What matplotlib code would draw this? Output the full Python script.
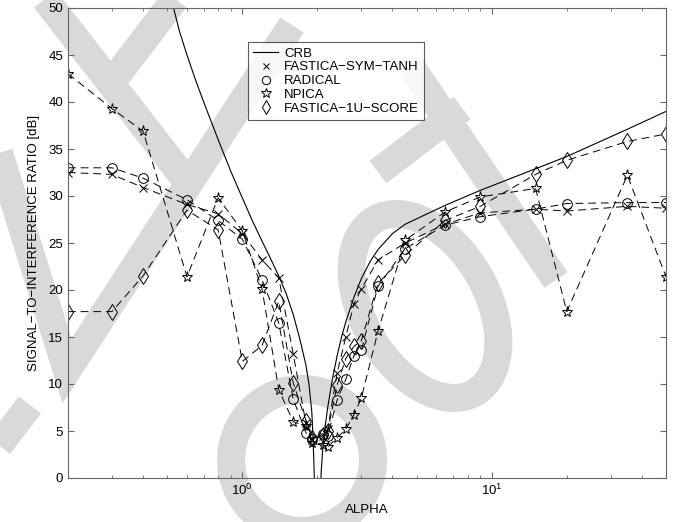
import matplotlib
matplotlib.use('Agg')
import matplotlib.pyplot as plt
from matplotlib.lines import Line2D
from matplotlib.patches import Ellipse
from matplotlib.transforms import Affine2D
from matplotlib.ticker import LogLocator, NullFormatter, FixedLocator

plt.rcParams['font.family'] = ['Liberation Sans', 'DejaVu Sans']
plt.rcParams['mathtext.fontset'] = 'custom'
plt.rcParams['mathtext.rm'] = 'Liberation Sans'

# sample points (alpha of the generalized gaussian)
alpha = [0.2, 0.3, 0.4, 0.6, 0.8, 1.0, 1.2, 1.4, 1.6, 1.8, 1.9, 2.1, 2.2,
         2.4, 2.6, 2.8, 3.0, 3.5, 4.5, 6.5, 9, 15, 20, 35, 50]

fastica_tanh = [32.5, 32.3, 30.9, 29.1, 28.1, 26.0, 23.2, 21.3, 13.2, 5.8, 4.0, 4.5, 5.2,
                11.2, 15.0, 18.5, 20.1, 23.2, 25.0, 27.0, 28.2, 28.6, 28.4, 28.9, 28.7]
radical = [33.0, 33.0, 31.9, 29.6, 27.4, 25.4, 21.1, 16.5, 8.4, 4.8, 4.2, 4.7, 4.5,
           8.3, 10.5, 13.0, 13.6, 20.4, 24.4, 26.9, 27.8, 28.6, 29.2, 29.3, 29.3]
npica = [43.0, 39.3, 36.9, 21.4, 29.8, 26.3, 20.1, 9.4, 6.0, 5.5, 3.7, 3.5, 3.3,
         4.3, 5.2, 6.7, 8.5, 15.6, 25.3, 28.3, 29.9, 30.8, 17.7, 32.2, 21.4]
fastica_1u = [17.7, 17.7, 21.5, 28.5, 26.4, 12.4, 14.1, 18.8, 10.1, 6.1, 4.3, 4.6, 5.0,
              9.9, 12.7, 14.0, 14.6, 20.7, 23.7, 27.4, 28.9, 32.3, 33.8, 35.8, 36.6]

# CRB, two branches around alpha = 2
crb_left_alpha = [0.52, 0.53, 0.56, 0.6, 0.65, 0.7, 0.8, 0.9, 1.0, 1.1, 1.2, 1.3, 1.4,
                  1.5, 1.6, 1.7, 1.8, 1.85, 1.9, 1.92, 1.94, 1.96]
crb_left = [51.0, 50.0, 47.5, 45.0, 42.3, 40.0, 36.0, 32.6, 29.8, 27.3, 25.2, 23.3, 21.5,
            19.6, 17.4, 14.8, 12.0, 10.0, 7.0, 4.5, 1.0, -4.0]
crb_right_alpha = [2.05, 2.07, 2.1, 2.15, 2.2, 2.3, 2.4, 2.5, 2.6, 2.8, 3.0, 3.25, 3.5,
                   4.0, 4.5, 6.5, 9, 15, 20, 30, 35, 50]
crb_right = [-4.0, 0.5, 3.0, 5.5, 7.5, 10.6, 13.0, 15.0, 16.6, 19.2, 21.2, 23.0, 24.3,
             26.0, 27.0, 29.0, 30.6, 32.9, 34.2, 36.3, 37.1, 39.0]

W, H = 690, 522
fig = plt.figure(figsize=(W / 100, H / 100), dpi=100)
ax = fig.add_axes([68 / W, 1 - 478 / H, (666 - 68) / W, (478 - 8) / H])
ax.patch.set_visible(False)

# grey watermark in pixel coordinates (y down)
pxt = Affine2D().scale(1 / W, -1 / H).translate(0, 1) + fig.transFigure
wm = '#d9d9d9'
wlw = 28 * 72 / 100
strokes = [
    [(38, -10), (192, 188)],
    [(182, -10), (112, 82)],
    [(-30, 60), (67, 371), (292, 25)],
    [(-20, 470), (30, 405)],
    [(412, 68), (556, 280)],
    [(378, 172), (462, 108)],
]
for s in strokes:
    xs = [p[0] for p in s]
    ys = [p[1] for p in s]
    fig.add_artist(Line2D(xs, ys, color=wm, lw=wlw, transform=pxt,
                          solid_capstyle='butt', solid_joinstyle='miter', zorder=-5))
fig.add_artist(Ellipse((302, 460), 142, 142, fill=False, ec=wm, lw=wlw,
                       transform=pxt, zorder=-5))
fig.add_artist(Ellipse((425, 306), 200, 124, angle=60, fill=False, ec=wm, lw=wlw,
                       transform=pxt, zorder=-5))

dash = (0, (8, 5))
ax.plot(crb_left_alpha, crb_left, color='k', lw=0.8)
ax.plot(crb_right_alpha, crb_right, color='k', lw=0.8)
ax.plot(alpha, fastica_tanh, color='k', lw=0.7, ls=dash, marker='x', ms=6, mew=0.7)
ax.plot(alpha, radical, color='k', lw=0.7, ls=dash, marker='o', ms=7, mfc='none', mew=0.7)
ax.plot(alpha, npica, color='k', lw=0.7, ls=dash, marker='*', ms=8, mfc='none', mew=0.7)
ax.plot(alpha, fastica_1u, color='k', lw=0.7, ls=dash, marker='d', ms=8, mfc='none', mew=0.7)

ax.set_xscale('log')
ax.set_xlim(0.2, 50)
ax.set_ylim(0, 50)
ax.xaxis.set_major_locator(FixedLocator([1, 10]))
ax.xaxis.set_minor_locator(LogLocator(base=10, subs=range(2, 10)))
ax.xaxis.set_minor_formatter(NullFormatter())
ax.set_xticklabels(['$10^{0}$', '$10^{1}$'])
ax.set_yticks(range(0, 51, 5))

for sp in ax.spines.values():
    sp.set_color('0.4')
    sp.set_linewidth(0.8)
ax.tick_params(which='both', direction='in', top=True, right=True, color='0.4',
               labelsize=9.5, labelcolor='k')
ax.tick_params(which='major', length=4.5)
ax.tick_params(which='minor', length=2.5)

ax.set_xlabel('ALPHA', fontsize=9.5, labelpad=4)
ax.set_ylabel('SIGNAL\u2212TO\u2212INTERFERENCE RATIO [dB]', fontsize=9.5, labelpad=6)

handles = [
    Line2D([], [], color='k', lw=0.8),
    Line2D([], [], ls='none', color='k', marker='x', ms=5, mew=0.7),
    Line2D([], [], ls='none', color='k', marker='o', ms=6, mfc='none', mew=0.7),
    Line2D([], [], ls='none', color='k', marker='*', ms=7, mfc='none', mew=0.7),
    Line2D([], [], ls='none', color='k', marker='d', ms=7, mfc='none', mew=0.7),
]
labels = ['CRB', 'FASTICA\u2212SYM\u2212TANH', 'RADICAL', 'NPICA', 'FASTICA\u22121U\u2212SCORE']
leg = ax.legend(handles, labels, loc='upper left', bbox_to_anchor=(248 / W, 1 - 42 / H),
                bbox_transform=fig.transFigure, fontsize=9.5, frameon=True, fancybox=False,
                borderpad=0.4, labelspacing=0.12, handlelength=1.9, handletextpad=0.45,
                borderaxespad=0)
leg.get_frame().set_edgecolor('0.2')
leg.get_frame().set_linewidth(0.8)

fig.savefig('out.png', dpi=100)
